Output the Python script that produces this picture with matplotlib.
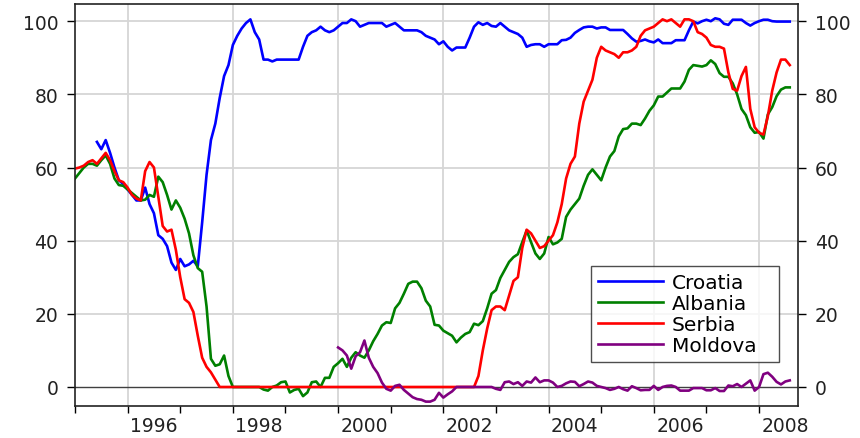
import numpy as np
import matplotlib

matplotlib.use("Agg")
import matplotlib.pyplot as plt

nan = np.nan

# Monthly values, January 1995 to August 2008 (one row per year)
croatia = [
    nan, nan, nan, nan, nan, 67, 65, 67.5, 64, 60, 56.5, 55.5,
    54, 52.5, 51, 51, 54.5, 50, 47.5, 41.5, 40.5, 38.5, 34, 32,
    35, 33, 33.5, 34.5, 33, 45, 58, 67.5, 72, 79, 85, 88,
    93.5, 96, 98, 99.5, 100.5, 97, 95, 89.5, 89.5, 89, 89.5, 89.5,
    89.5, 89.5, 89.5, 89.5, 93, 96, 97, 97.5, 98.5, 97.5, 97, 97.5,
    98.5, 99.5, 99.5, 100.5, 100, 98.5, 99, 99.5, 99.5, 99.5, 99.5, 98.5,
    99, 99.5, 98.5, 97.5, 97.5, 97.5, 97.5, 97, 96, 95.5, 95, 93.7,
    94.5, 93, 92, 92.8, 92.8, 92.8, 95.5, 98.5, 99.7, 99, 99.5, 98.7,
    98.5, 99.5, 98.5, 97.5, 97, 96.5, 95.5, 93, 93.5, 93.7, 93.7, 93,
    93.7, 93.7, 93.7, 94.8, 94.9, 95.5, 96.8, 97.6, 98.3, 98.5, 98.5, 98,
    98.3, 98.3, 97.6, 97.6, 97.6, 97.6, 96.5, 95.3, 94.4, 94.6, 95, 94.5,
    94.2, 95, 94, 94, 94, 94.8, 94.8, 94.8, 97.5, 99.9, 99.4, 100,
    100.4, 100, 100.8, 100.5, 99.3, 99, 100.4, 100.4, 100.4, 99.5, 98.8, 99.5,
    100, 100.4, 100.4, 100, 99.9, 99.9, 99.9, 99.9,
]

albania = [
    57, 58.5, 60, 61, 61, 60.5, 62, 63.3, 61, 57, 55.2, 55,
    54, 53, 52, 51, 51.2, 52.5, 52, 57.5, 56, 52.5, 48.5, 51,
    49, 46, 42, 36, 32.5, 31.5, 22, 7.7, 5.8, 6.2, 8.6, 3,
    0, 0, 0, 0, 0, 0, 0, -0.7, -1, 0, 0.4, 1.3,
    1.5, -1.5, -0.8, -0.5, -2.5, -1.5, 1.3, 1.5, 0, 2.5, 2.5, 5.5,
    6.5, 7.7, 5.5, 8, 9.5, 8.6, 8, 10, 12.5, 14.5, 16.8, 17.7,
    17.5, 21.5, 23, 25.5, 28.2, 28.8, 28.8, 27, 23.6, 22, 17, 16.8,
    15.4, 14.7, 14, 12.2, 13.5, 14.5, 15, 17.3, 16.9, 18, 21.5, 25.5,
    26.5, 29.8, 32, 34.2, 35.5, 36.3, 39.6, 42.8, 39.6, 36.5, 35, 36.5,
    41, 39, 39.5, 40.5, 46.5, 48.5, 50, 51.5, 55, 58, 59.5, 58,
    56.5, 60, 63, 64.5, 68.5, 70.5, 70.7, 72, 72, 71.6, 73.4, 75.5,
    77, 79.4, 79.4, 80.5, 81.6, 81.6, 81.6, 83.5, 86.7, 88, 87.8, 87.6,
    88, 89.3, 88.3, 85.8, 84.8, 84.8, 83, 80, 76, 74.3, 71, 69.5,
    69.7, 67.9, 74.5, 76.5, 79.5, 81.3, 81.9, 81.9,
]

serbia = [
    59.7, 60, 60.5, 61.5, 62, 61, 62.5, 64, 62, 59, 56.5, 56,
    54.5, 52.5, 51.5, 51, 59, 61.5, 60, 52, 44, 42.5, 43, 37.5,
    30, 24, 23, 20.5, 14, 8, 5.5, 4, 2, 0, 0, 0,
    0, 0, 0, 0, 0, 0, 0, 0, 0, 0, 0, 0,
    0, 0, 0, 0, 0, 0, 0, 0, 0, 0, 0, 0,
    0, 0, 0, 0, 0, 0, 0, 0, 0, 0, 0, 0,
    0, 0, 0, 0, 0, 0, 0, 0, 0, 0, 0, 0,
    0, 0, 0, 0, 0, 0, 0, 0, 3, 10, 16, 21,
    22, 22, 21, 25, 29, 30, 38, 43, 42, 40, 38, 38.5,
    40, 41.5, 45, 50, 57, 61, 63, 72, 78, 81, 84, 90,
    93, 92, 91.5, 91, 90, 91.5, 91.5, 92, 93, 96, 97.5, 98,
    98.5, 99.5, 100.5, 100, 100.5, 99.5, 98.5, 100.5, 100.5, 100, 97, 96.5,
    95.5, 93.5, 93, 93, 92.5, 86, 81.5, 81, 85, 87.5, 76, 71,
    69.5, 69, 74, 81, 86, 89.5, 89.5, 88,
]

moldova = [
    nan, nan, nan, nan, nan, nan, nan, nan, nan, nan, nan, nan,
    nan, nan, nan, nan, nan, nan, nan, nan, nan, nan, nan, nan,
    nan, nan, nan, nan, nan, nan, nan, nan, nan, nan, nan, nan,
    nan, nan, nan, nan, nan, nan, nan, nan, nan, nan, nan, nan,
    nan, nan, nan, nan, nan, nan, nan, nan, nan, nan, nan, nan,
    10.8, 10, 8.6, 5, 8.4, 9.5, 12.7, 8, 5.5, 3.8, 1.2, -0.5,
    -1, 0.3, 0.6, -0.8, -1.8, -2.8, -3.3, -3.5, -4, -4, -3.5, -1.6,
    -2.9, -2, -1.2, 0, 0, 0, 0, 0, 0, 0, 0, 0,
    -0.5, -0.8, 1.3, 1.5, 0.8, 1.3, 0.3, 1.5, 1.2, 2.6, 1.3, 1.8,
    1.8, 1.2, 0, 0.3, 1, 1.5, 1.4, 0.2, 0.8, 1.5, 1.2, 0.3,
    0, -0.3, -0.8, -0.5, 0, -0.6, -1, 0.2, -0.3, -0.9, -0.8, -0.8,
    0.3, -0.8, 0, 0.3, 0.4, 0, -1, -1, -1, -0.3, -0.3, -0.3,
    -0.9, -0.9, -0.3, -1.1, -1.1, 0.4, 0.2, 0.8, 0, 0.9, 1.8, -1,
    0, 3.5, 3.9, 2.8, 1.4, 0.7, 1.5, 1.8,
]

series_names = ["Croatia", "Albania", "Serbia", "Moldova"]
series_colors = ["#0000ff", "#008000", "#ff0000", "#800080"]
y_ticks = [0, 20, 40, 60, 80, 100]
label_years = [1996, 1998, 2000, 2002, 2004, 2006, 2008]

dates = 1995 + np.arange(len(albania)) / 12.0

fig = plt.figure(figsize=(8.6, 4.39), dpi=100)
ax = fig.add_axes([75 / 860, 1 - 407 / 439, 723 / 860, 402 / 439])

for yv in y_ticks[1:]:
    ax.axhline(yv, color="#d6d6d6", lw=1.3, zorder=0)
for yr in label_years:
    ax.axvline(yr, color="#d6d6d6", lw=1.3, zorder=0)
ax.axhline(0, color="#404040", lw=1.0, zorder=1)

for name, vals, col in zip(series_names, [croatia, albania, serbia, moldova], series_colors):
    ax.plot(dates, vals, color=col, lw=1.9, label=name, zorder=2)

ax.set_xlim(1995, 2008.74)
ax.set_ylim(-5.2, 104.7)

ax.set_xticks(range(1995, 2009))
ax.set_xticklabels([])
ax.set_xticks([y + 0.5 for y in label_years], [str(y) for y in label_years], minor=True)
ax.tick_params(axis="x", which="major", direction="out", length=5, width=1)
ax.tick_params(axis="x", which="minor", length=0, pad=7, labelsize=13.5, labelcolor="#222222")

ax.set_yticks(y_ticks)
ax.tick_params(axis="y", direction="out", length=6, width=1, pad=6, labelsize=13.5,
               labelcolor="#222222", left=True, right=True, labelleft=True, labelright=True)

for sp in ax.spines.values():
    sp.set_linewidth(1.2)
    sp.set_color("#222222")

leg = ax.legend(loc="lower left", bbox_to_anchor=(0.714, 0.109, 0.26, 0.237), mode="expand",
                fontsize=14.5, frameon=True, fancybox=False, edgecolor="#222222",
                handlelength=3.2, handletextpad=0.45, labelspacing=0.1, borderpad=0.35,
                borderaxespad=0)
leg.get_frame().set_linewidth(1.0)

fig.savefig("out.png", dpi=100)
